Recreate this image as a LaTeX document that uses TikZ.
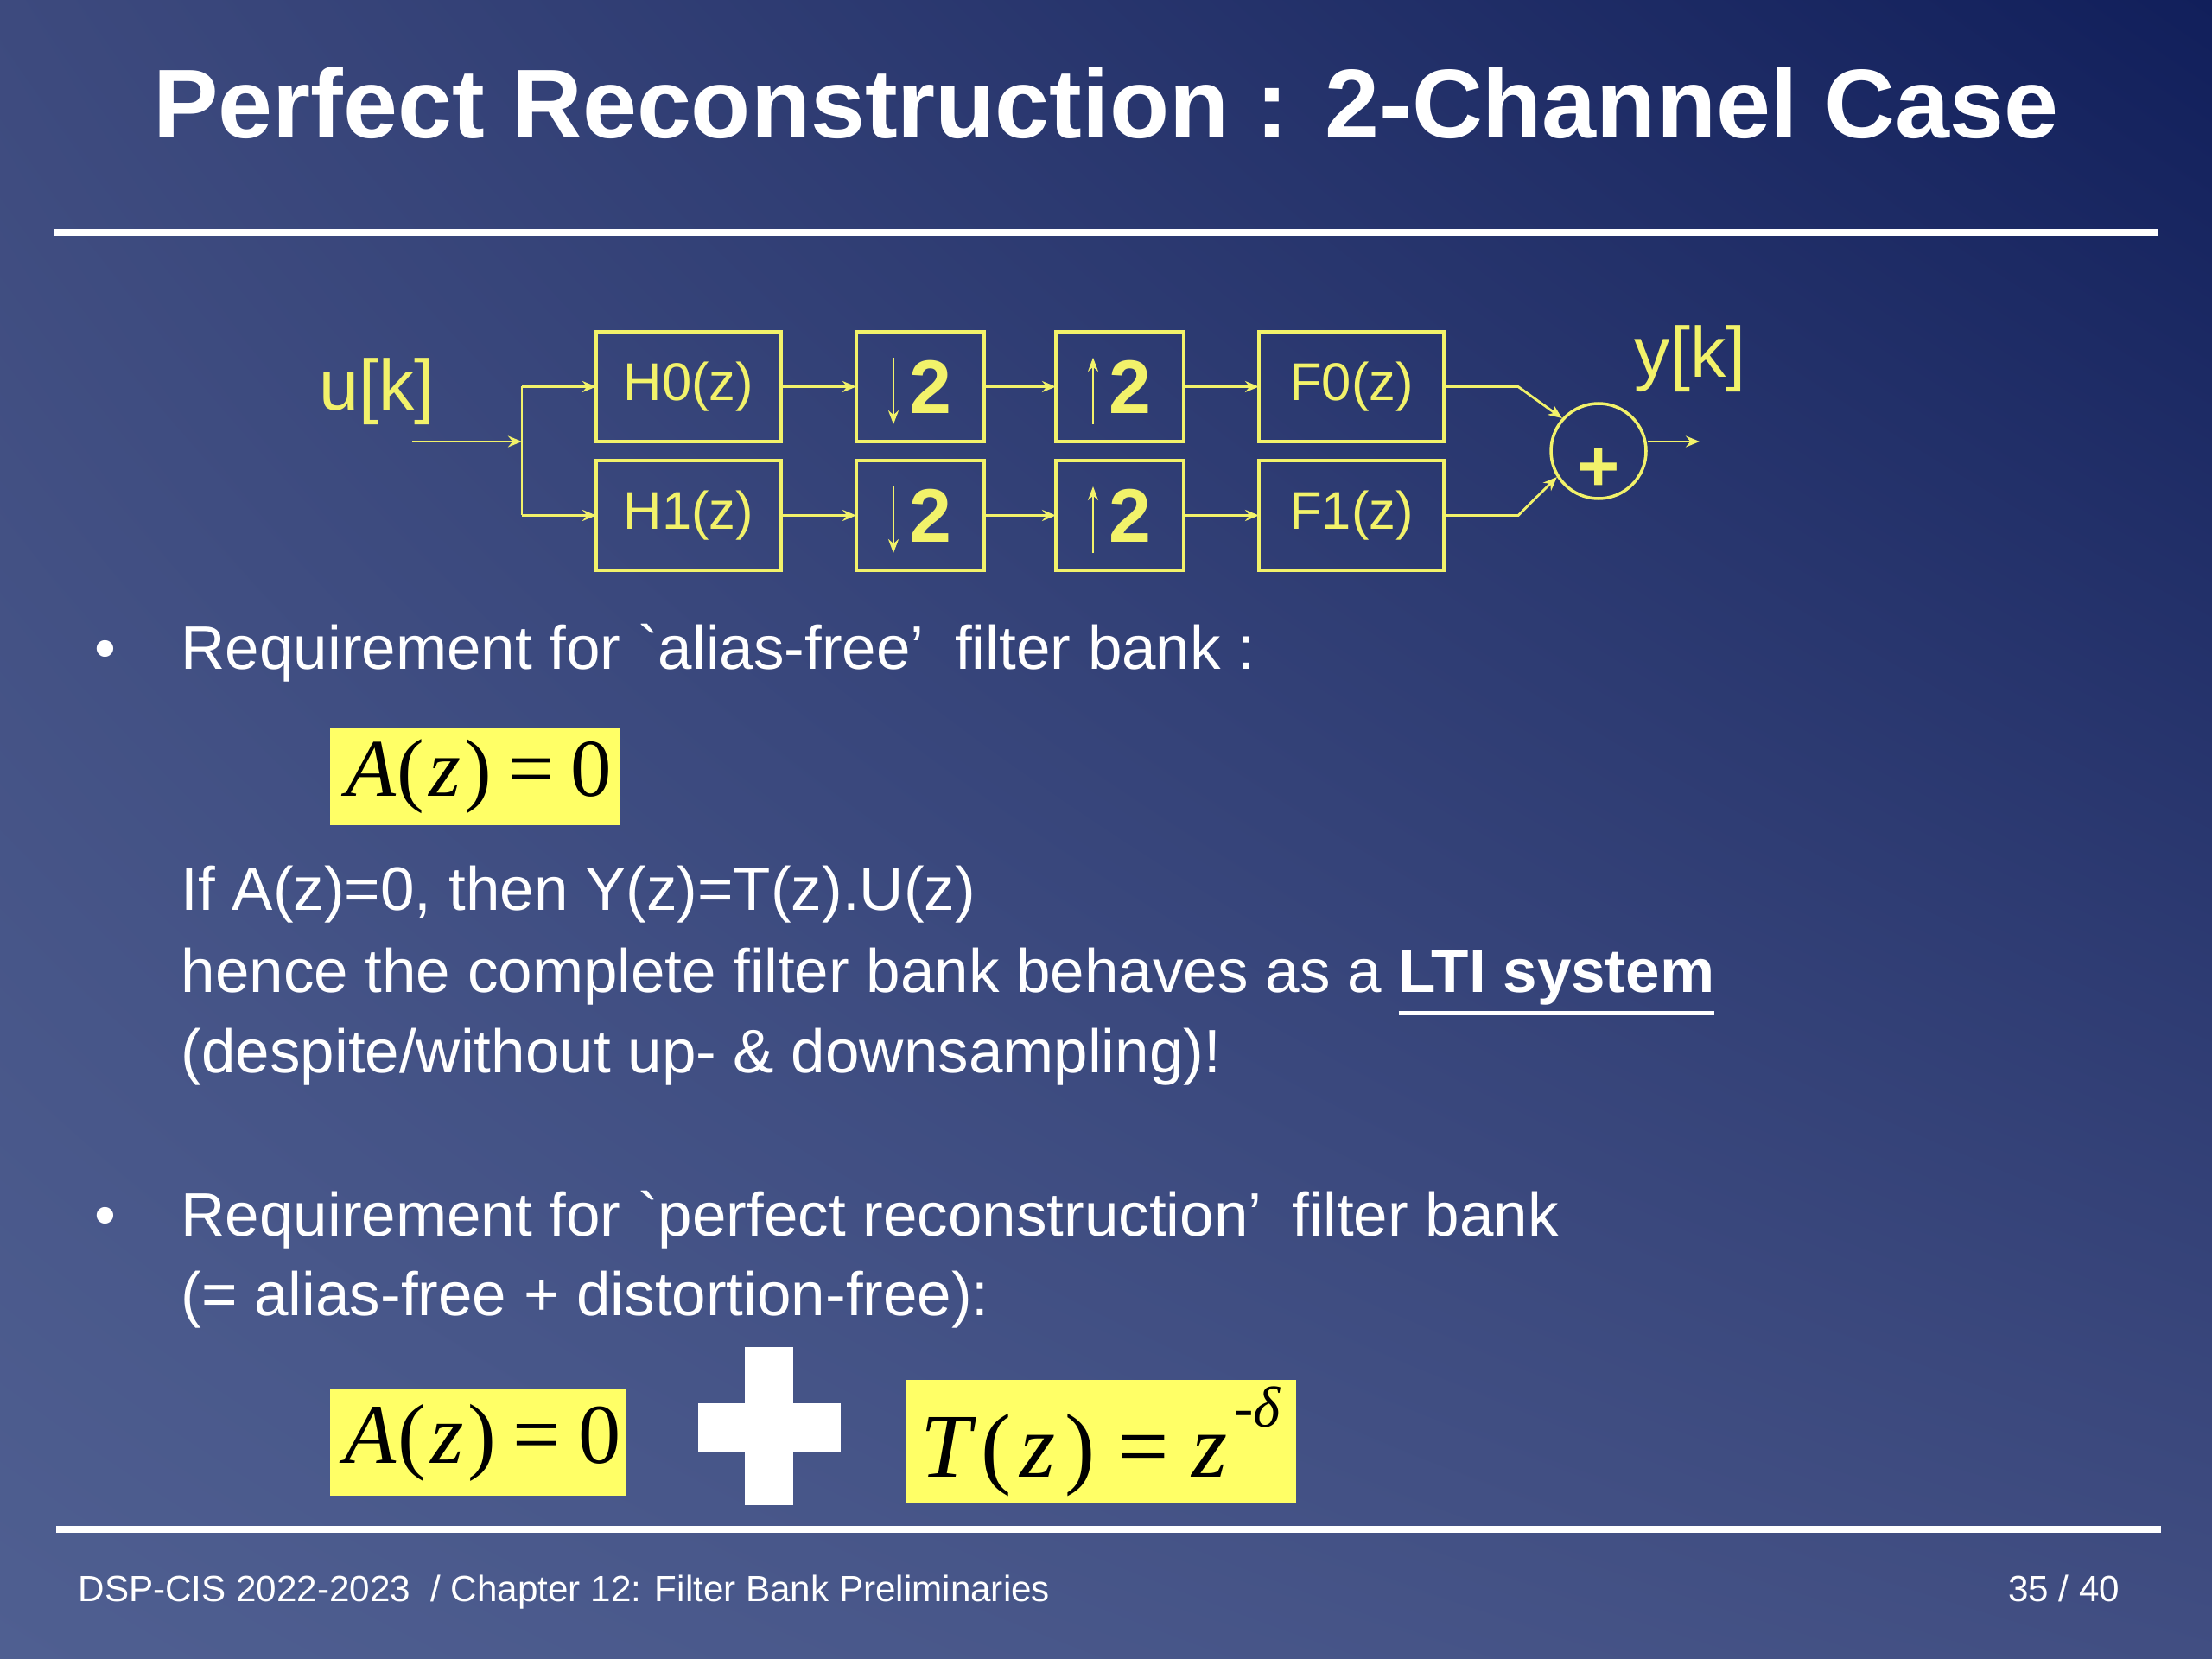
\documentclass[tikz,border=0pt]{standalone}
\usepackage{fontspec}
\setmainfont{Liberation Sans}
\newfontfamily\frmfont{Liberation Serif}
\usetikzlibrary{positioning,arrows.meta,shadings}

\definecolor{bgul}{HTML}{3D4A7E}
\definecolor{bgur}{HTML}{111F5B}
\definecolor{bgll}{HTML}{4F5F91}
\definecolor{bglr}{HTML}{414E82}
\definecolor{sigyel}{HTML}{F2F26A}
\definecolor{boxyel}{HTML}{FFFF66}

\newcommand{\fsz}[1]{\fontsize{#1}{#1}\selectfont}
\newcommand{\ulthick}[1]{\leavevmode\vtop{\hbox{#1}\kern0.1em\hrule height 0.07em}}

\begin{document}
\begin{tikzpicture}[
        blk/.style={draw=sigyel, line width=1pt, minimum height=1.27cm, inner sep=0pt, outer sep=0pt, text=sigyel, font=\fsz{17.5pt}},
        filt/.style={blk, minimum width=2.14cm},
        rate/.style={blk, minimum width=1.48cm, font=\bfseries\fsz{25pt}},
        sig/.style={draw=sigyel, line width=0.8pt, -{Stealth[length=1.6mm,width=1.3mm]}},
        wire/.style={draw=sigyel, line width=0.8pt},
        lbl/.style={text=sigyel, inner sep=0pt, font=\fsz{23.5pt}},
        body/.style={anchor=base west, text=white, inner sep=0pt, font=\fsz{20.2pt}},
        eqbox/.style={fill=boxyel, inner sep=0pt, text=black, font=\frmfont\fsz{27pt}},
        rule/.style={white, line width=0.085cm}]
    \useasboundingbox (0,0) rectangle (25.6,-19.2);
    \shade[upper left=bgul, upper right=bgur, lower left=bgll, lower right=bglr] (0,0) rectangle (25.6,-19.2);

    % title
    \node (title) [anchor=base, text=white, inner sep=0pt, font=\bfseries\fsz{32.2pt}] at (12.80,-1.60) {Perfect Reconstruction : 2-Channel Case};
    \draw[rule] (0.62,-2.69) -- (24.98,-2.69);

    % analysis / synthesis bank
    \node (H0) [filt] at (7.97,-4.475) {H0(z)};
    \node (dn0) [rate, right=0.87cm of H0] {\hspace*{0.24cm}2};
    \node (up0) [rate, right=0.83cm of dn0] {\hspace*{0.24cm}2};
    \node (F0) [filt, right=0.87cm of up0] {\raisebox{0.1cm}{F0(z)}};
    \node (H1) [filt] at (7.97,-5.965) {H1(z)};
    \node (dn1) [rate, right=0.87cm of H1] {\hspace*{0.24cm}2};
    \node (up1) [rate, right=0.83cm of dn1] {\hspace*{0.24cm}2};
    \node (F1) [filt, right=0.87cm of up1] {\raisebox{0.1cm}{F1(z)}};
    \node (add) [circle, draw=sigyel, line width=1pt, minimum size=1.1cm, inner sep=0pt] at (18.50,-5.22) {};
    \node (addsign) [text=sigyel, inner sep=0pt, font=\bfseries\fsz{24pt}] at ([yshift=-0.22cm]add.center) {+};

    \node (uin) [lbl] at (4.36,-4.53) {u[k]};
    \node (yout) [lbl] at (19.56,-4.15) {y[k]};
    \coordinate (src) at (4.77,-5.11);
    \coordinate (fork) at (6.04,-5.11);
    \coordinate (sink) at (19.67,-5.11);

    \draw[sig] (src) -- (fork);
    \draw[wire] (fork |- H0) -- (fork |- H1);
    \draw[sig] (fork |- H0) -- (H0);
    \draw[sig] (fork |- H1) -- (H1);
    \foreach \a/\b in {H0/dn0, dn0/up0, up0/F0, H1/dn1, dn1/up1, up1/F1}
        \draw[sig] (\a) -- (\b);
    \foreach \r in {dn0, dn1}
        \draw[wire, -{Stealth[length=1.6mm,width=1.2mm]}] ([xshift=-0.31cm,yshift=-0.3cm]\r.north) -- ([xshift=-0.31cm,yshift=0.2cm]\r.south);
    \foreach \r in {up0, up1}
        \draw[wire, -{Stealth[length=1.6mm,width=1.2mm]}] ([xshift=-0.31cm,yshift=0.2cm]\r.south) -- ([xshift=-0.31cm,yshift=-0.3cm]\r.north);
    \draw[sig] (F0.east) -- ++(0.86,0) -- (add.138);
    \draw[sig] (F1.east) -- ++(0.86,0) -- (add.212);
    \draw[sig] (add.east |- sink) -- (sink);

    % requirements
    \node (bul1) [body, anchor=base] at (1.22,-7.74) {•};
    \node (req1) [body] at (2.09,-7.74) {Requirement for \textasciigrave alias-free’\hspace{0.5em}filter bank :};
    \node (eq1) [eqbox, minimum width=3.35cm, minimum height=1.13cm] at (5.495,-8.985)
        {\hspace{0.1em}{\itshape A}\hspace{0.02em}(\hspace{0.05em}{\itshape z}\hspace{0.05em})\hspace{0.2em}=\hspace{0.2em}0};
    \node (ifl) [body] at (2.09,-10.53) {If A(z)=0, then Y(z)=T(z).U(z)};
    \node (hence) [body] at (2.09,-11.48) {hence the complete filter bank behaves as a \ulthick{\textbf{LTI system}}};
    \node (desp) [body] at (2.09,-12.41) {(despite/without up- \& downsampling)!};
    \node (bul2) [body, anchor=base] at (1.22,-14.30) {•};
    \node (req2) [body] at (2.09,-14.30) {Requirement for \textasciigrave perfect reconstruction’\hspace{0.5em}filter bank};
    \node (sum) [body] at (2.09,-15.22) {(= alias-free + distortion-free):};
    \node (eq2) [eqbox, minimum width=3.43cm, minimum height=1.23cm, font=\frmfont\fsz{28pt}] at (5.535,-16.695)
        {\hspace{0.1em}{\itshape A}\hspace{0.02em}(\hspace{0.05em}{\itshape z}\hspace{0.05em})\hspace{0.2em}=\hspace{0.2em}0};
    \fill[white] (8.08,-16.24) rectangle (9.73,-16.80);
    \fill[white] (8.62,-15.59) rectangle (9.18,-17.42);
    \node (eq3) [eqbox, minimum width=4.52cm, minimum height=1.42cm, font=\frmfont\fsz{30pt}] at (12.74,-16.68)
        {{\itshape T}\hspace{0.1em}(\hspace{0.1em}{\itshape z}\hspace{0.1em})\hspace{0.25em}=\hspace{0.25em}{\itshape z}\raisebox{0.55em}{\fsz{19pt}\hspace{0.12em}-{\itshape δ}}};

    % footer
    \draw[rule] (0.65,-17.70) -- (25.01,-17.70);
    \node (foot) [body, font=\fsz{12pt}] at (0.90,-18.53) {DSP-CIS 2022-2023\ \ / Chapter 12: Filter Bank Preliminaries};
    \node (page) [body, anchor=base east, font=\fsz{12pt}] at (24.54,-18.53) {35 / 40};
\end{tikzpicture}
\end{document}
